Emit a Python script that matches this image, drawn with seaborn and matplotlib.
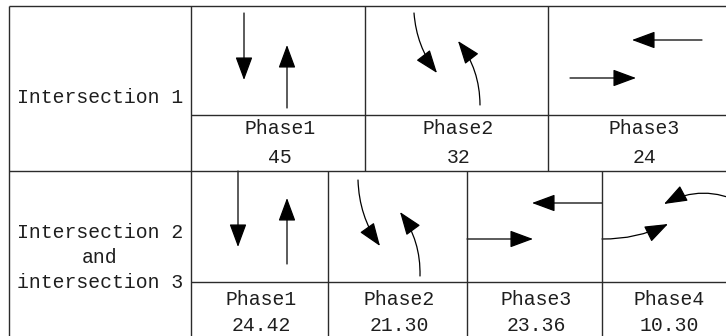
import matplotlib
matplotlib.use("Agg")
import matplotlib.pyplot as plt
from matplotlib.patches import FancyArrowPatch
import seaborn as sns

# table content
intersections = ["Intersection 1", "Intersection 2\nand\nintersection 3"]
phases_1 = ["Phase1", "Phase2", "Phase3"]
green_1 = ["45", "32", "24"]
phases_23 = ["Phase1", "Phase2", "Phase3", "Phase4"]
green_23 = ["24.42", "21.30", "23.36", "10.30"]

# layout (pixels, y downwards)
W, H = 726, 336
left, label_right = 8.5, 191
row_top = [5.5, 171]
row_split = [114.5, 282]
row_bottom = 360
cols_1 = [191, 365, 548, 736]
cols_23 = [191, 328, 467, 602, 732]

# movement arrows: start, tip, curvature
arrows_1 = [
    ((244, 13), (244, 80), 0), ((287, 108), (287, 45), 0),
    ((414, 13), (437, 73), 0.15), ((480, 105), (458, 41), 0.17),
    ((702, 40), (632, 40), 0), ((570, 78), (636, 78), 0),
]
arrows_23 = [
    ((238, 171), (238, 247), 0), ((287, 264), (287, 198), 0),
    ((358, 180), (380, 246), 0.15), ((420, 276), (400, 212), 0.17),
    ((602, 203), (532, 203), 0), ((467, 239), (533, 239), 0),
    ((602, 239), (668, 224), 0.12), ((742, 203), (664, 204), 0.26),
]

sns.set_theme(style="white")
plt.rcParams['font.family'] = ['Liberation Mono', 'DejaVu Sans Mono']

fig = plt.figure(figsize=(W / 100, H / 100), dpi=100)
ax = fig.add_axes([0, 0, 1, 1])
ax.set_xlim(0, W)
ax.set_ylim(H, 0)
ax.axis('off')

line_kw = dict(color='#2b2b2b', lw=1.0, solid_capstyle='butt')
txt_kw = dict(fontsize=14.2, color='#1e1e1e', ha='center', va='baseline')

# outer and row borders
ax.plot([left, W + 20], [row_top[0], row_top[0]], **line_kw)
ax.plot([left, W + 20], [row_top[1], row_top[1]], **line_kw)
ax.plot([left, left], [row_top[0], row_bottom], **line_kw)
ax.plot([label_right, label_right], [row_top[0], row_bottom], **line_kw)
for i, cols in enumerate([cols_1, cols_23]):
    ax.plot([label_right, W + 20], [row_split[i], row_split[i]], **line_kw)
    bottom = row_top[1] if i == 0 else row_bottom
    for x in cols[1:-1]:
        ax.plot([x, x], [row_top[i], bottom], **line_kw)

# left labels
ax.text((left + label_right) / 2, 103, intersections[0], **txt_kw)
for k, line in enumerate(intersections[1].split("\n")):
    ax.text((left + label_right) / 2, 238 + 25 * k, line, **txt_kw)

# phase names and green times
for cols, names, vals, base, gap in [(cols_1, phases_1, green_1, 134, 29),
                                     (cols_23, phases_23, green_23, 305, 26)]:
    for j, (name, val) in enumerate(zip(names, vals)):
        xc = (cols[j] + cols[j + 1]) / 2 + 2
        ax.text(xc, base, name, **txt_kw)
        ax.text(xc, base + gap, val, **txt_kw)

for start, tip, rad in arrows_1 + arrows_23:
    ax.add_patch(FancyArrowPatch(
        start, tip, connectionstyle=f"arc3,rad={rad}",
        arrowstyle="-|>,head_length=1.0,head_width=0.37", mutation_scale=14.5,
        shrinkA=0, shrinkB=0, color='black', lw=0.9))

fig.savefig("out.png", dpi=100, facecolor='white')
